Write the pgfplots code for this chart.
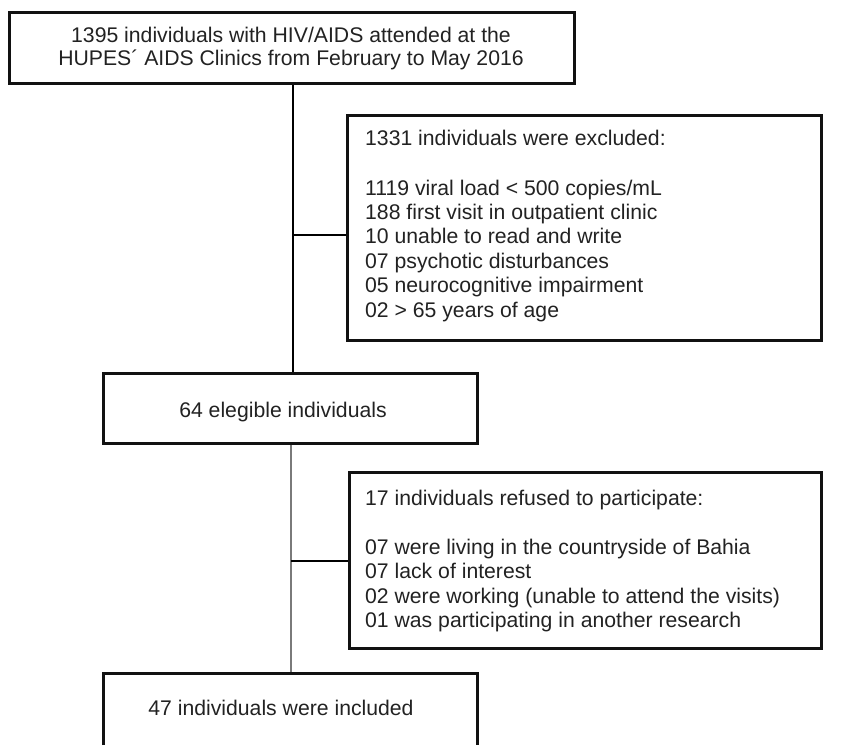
\documentclass[border=0pt]{standalone}
\usepackage{fontspec}
\setmainfont{Liberation Sans}
\usepackage{pgfplots}
\pgfplotsset{compat=1.18}
\definecolor{txt}{HTML}{222222}
\definecolor{bord}{HTML}{111111}
\definecolor{gline}{HTML}{7a7a7a}
\begin{document}
\begin{tikzpicture}
\begin{axis}[width=861pt,height=739pt,scale only axis,
  xmin=0,xmax=861,ymin=0,ymax=739,y dir=reverse,
  axis lines=none,ticks=none,clip=false]
\path (axis cs:0,0) rectangle (axis cs:861,739);
\tikzset{t/.style={font=\fontsize{21.2}{24}\selectfont,text=txt,inner sep=0pt}}
% connectors
\draw[line width=2pt,black] (axis cs:293,83) -- (axis cs:293,373);
\draw[line width=1.5pt,black] (axis cs:293,235) -- (axis cs:347,235);
\draw[line width=1.5pt,gline] (axis cs:291,443) -- (axis cs:291,673);
\draw[line width=1.5pt,black] (axis cs:291,561) -- (axis cs:349,561);
% box 1
\draw[line width=3pt,bord,fill=white] (axis cs:9,13) rectangle (axis cs:574,83);
\node[t,anchor=base] at (axis cs:291,43) {1395 individuals with HIV/AIDS attended at the};
\node[t,anchor=base] at (axis cs:291,66) {HUPES´ AIDS Clinics from February to May 2016};
% box 2
\draw[line width=3pt,bord,fill=white] (axis cs:347,115) rectangle (axis cs:821,340);
\node[t,anchor=base west] at (axis cs:365,145) {1331 individuals were excluded:};
\node[t,anchor=base west] at (axis cs:365,195) {1119 viral load < 500 copies/mL};
\node[t,anchor=base west] at (axis cs:365,219) {188 first visit in outpatient clinic};
\node[t,anchor=base west] at (axis cs:365,243.5) {10 unable to read and write};
\node[t,anchor=base west] at (axis cs:365,268) {07 psychotic disturbances};
\node[t,anchor=base west] at (axis cs:365,292.5) {05 neurocognitive impairment};
\node[t,anchor=base west] at (axis cs:365,317) {02 > 65 years of age};
% box 3
\draw[line width=3pt,bord,fill=white] (axis cs:103,373) rectangle (axis cs:477,443);
\node[t,anchor=base] at (axis cs:283,417) {64 elegible individuals};
% box 4
\draw[line width=3pt,bord,fill=white] (axis cs:349,472) rectangle (axis cs:821,648);
\node[t,anchor=base west] at (axis cs:365,505) {17 individuals refused to participate:};
\node[t,anchor=base west] at (axis cs:365,554) {07 were living in the countryside of Bahia};
\node[t,anchor=base west] at (axis cs:365,578.5) {07 lack of interest};
\node[t,anchor=base west] at (axis cs:365,603) {02 were working (unable to attend the visits)};
\node[t,anchor=base west] at (axis cs:365,627.5) {01 was participating in another research};
% box 5
\draw[line width=3pt,bord] (axis cs:103,745) -- (axis cs:103,673) -- (axis cs:477,673) -- (axis cs:477,745);
\node[t,anchor=base] at (axis cs:281,715) {47 individuals were included};
\end{axis}
\end{tikzpicture}
\end{document}
